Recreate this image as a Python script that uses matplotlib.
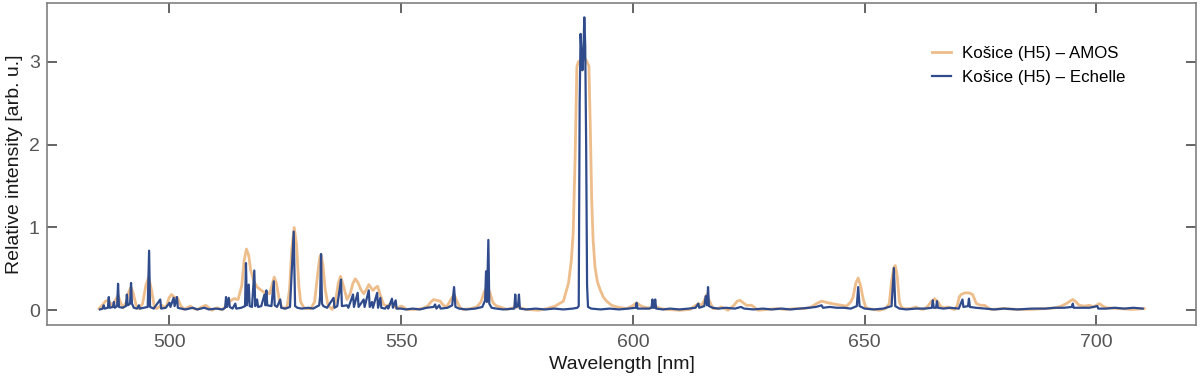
import matplotlib
matplotlib.use("Agg")
import matplotlib.pyplot as plt

plt.rcParams['font.family'] = ['Liberation Sans', 'DejaVu Sans']

# AMOS spectrum (smooth, low resolution)
amos_x = [484.8, 485.5, 486.2, 486.7, 487.2, 487.7, 488.3, 488.9, 489.4, 490.0,
          490.7, 491.2, 491.7, 492.2, 492.8, 493.4, 494.2, 494.9, 495.5, 496.1,
          496.7, 497.2, 497.8, 498.4, 498.9, 499.4, 499.9, 500.4, 501.0, 501.7,
          502.4, 503.1, 503.8, 504.5, 505.2, 506.0, 507.0, 507.8, 508.5, 509.2,
          509.8, 510.4, 511.0, 511.4, 512.2, 513.0, 513.9, 514.8, 515.6, 516.1,
          516.6, 517.1, 517.5, 518.2, 518.9, 519.6, 520.3, 521.1, 521.6, 522.1,
          522.6, 523.1, 523.7, 524.2, 524.8, 525.4, 525.9, 526.4, 526.9, 527.4,
          527.9, 528.3, 529.0, 529.8, 530.5, 531.3, 531.9, 532.4, 532.7, 533.1,
          533.6, 534.2, 535.1, 535.8, 536.4, 536.9, 537.5, 538.3, 539.0, 539.6,
          540.1, 540.7, 541.3, 541.9, 542.4, 543.0, 543.5, 543.9, 544.4, 544.9,
          545.4, 546.2, 546.9, 547.5, 548.0, 548.5, 549.1, 549.6, 550.1, 550.7,
          551.2, 553.0, 554.5, 555.7, 556.4, 557.0, 557.6, 558.4, 559.1, 559.8,
          560.6, 561.4, 562.1, 562.7, 563.4, 565.0, 566.3, 567.2, 567.9, 568.5,
          569.1, 569.8, 570.6, 571.3, 572.8, 574.2, 575.3, 576.2, 577.1, 579.6,
          581.4, 583.2, 585.0, 586.1, 586.7, 587.1, 587.5, 587.9, 588.2, 588.7,
          589.3, 589.9, 590.5, 590.8, 591.1, 591.4, 591.8, 592.3, 592.9, 593.6,
          594.3, 595.4, 596.5, 598.6, 599.8, 600.8, 601.8, 603.0, 604.0, 605.1,
          606.0, 607.3, 610.1, 612.3, 613.3, 614.1, 614.8, 615.4, 615.9, 616.6,
          617.3, 618.2, 619.1, 619.8, 620.5, 621.8, 622.5, 623.1, 623.8, 624.5,
          625.1, 625.6, 626.3, 627.0, 629.0, 631.0, 633.0, 635.0, 637.0, 638.5,
          639.6, 640.7, 641.4, 642.1, 643.0, 643.9, 645.0, 646.1, 647.0, 647.5,
          648.1, 648.6, 649.1, 649.7, 650.2, 650.7, 653.2, 654.5, 655.3, 655.8,
          656.3, 656.6, 657.0, 657.5, 658.0, 658.6, 659.9, 660.6, 661.1, 661.7,
          662.6, 663.5, 664.3, 665.1, 665.8, 666.5, 667.3, 668.0, 668.7, 669.4,
          670.0, 670.4, 670.8, 671.6, 672.5, 673.3, 673.8, 674.1, 675.0, 675.9,
          676.6, 677.3, 680.0, 683.0, 686.0, 689.0, 691.3, 692.4, 693.5, 694.3,
          694.9, 695.6, 696.3, 697.4, 698.5, 699.4, 700.6, 701.4, 702.1, 705.0,
          707.8, 710.3]
amos_y = [0.02, 0.06, 0.11, 0.12, 0.09, 0.05, 0.12, 0.18, 0.10, 0.03,
          0.10, 0.22, 0.28, 0.20, 0.06, 0.02, 0.08, 0.30, 0.40, 0.25,
          0.05, 0.02, 0.04, 0.06, 0.03, 0.06, 0.15, 0.19, 0.16, 0.15,
          0.06, 0.01, 0.03, 0.05, 0.02, 0.01, 0.04, 0.06, 0.03, 0.00,
          0.02, 0.03, 0.01, 0.01, 0.05, 0.11, 0.14, 0.13, 0.30, 0.60,
          0.74, 0.66, 0.49, 0.35, 0.28, 0.25, 0.22, 0.21, 0.20, 0.30,
          0.40, 0.32, 0.12, 0.04, 0.02, 0.05, 0.25, 0.75, 1.00, 0.80,
          0.30, 0.10, 0.03, 0.02, 0.02, 0.10, 0.40, 0.63, 0.67, 0.55,
          0.25, 0.06, 0.01, 0.10, 0.32, 0.41, 0.30, 0.13, 0.20, 0.33,
          0.38, 0.33, 0.25, 0.20, 0.24, 0.31, 0.27, 0.24, 0.27, 0.29,
          0.20, 0.07, 0.05, 0.07, 0.08, 0.05, 0.02, 0.04, 0.05, 0.03,
          0.01, 0.01, 0.02, 0.05, 0.10, 0.13, 0.12, 0.11, 0.06, 0.04,
          0.12, 0.19, 0.10, 0.03, 0.01, 0.02, 0.04, 0.10, 0.22, 0.28,
          0.22, 0.09, 0.05, 0.04, 0.01, 0.03, 0.04, 0.02, 0.01, 0.00,
          0.02, 0.05, 0.11, 0.33, 0.60, 0.93, 1.80, 2.94, 3.00, 3.02,
          3.07, 3.02, 2.95, 2.20, 1.33, 0.85, 0.53, 0.35, 0.25, 0.16,
          0.11, 0.06, 0.04, 0.02, 0.05, 0.09, 0.05, 0.03, 0.03, 0.04,
          0.02, 0.01, 0.00, 0.01, 0.05, 0.08, 0.06, 0.12, 0.19, 0.10,
          0.02, 0.02, 0.04, 0.02, 0.00, 0.06, 0.11, 0.12, 0.09, 0.06,
          0.06, 0.06, 0.03, 0.00, 0.01, 0.02, 0.01, 0.02, 0.02, 0.04,
          0.08, 0.11, 0.10, 0.09, 0.08, 0.07, 0.06, 0.05, 0.10, 0.16,
          0.33, 0.39, 0.30, 0.13, 0.04, 0.02, 0.00, 0.02, 0.08, 0.35,
          0.52, 0.54, 0.42, 0.10, 0.03, 0.02, 0.02, 0.03, 0.04, 0.02,
          0.01, 0.04, 0.10, 0.14, 0.10, 0.04, 0.03, 0.04, 0.02, 0.01,
          0.06, 0.16, 0.19, 0.21, 0.21, 0.19, 0.12, 0.08, 0.06, 0.06,
          0.03, 0.01, 0.02, 0.01, 0.01, 0.02, 0.03, 0.05, 0.08, 0.11,
          0.13, 0.10, 0.06, 0.05, 0.06, 0.04, 0.08, 0.05, 0.03, 0.02,
          0.01, 0.02]

# Echelle spectrum (high resolution, spiky)
ech_x = [485.0, 485.6, 485.8, 486.0, 486.7, 486.9, 487.1, 487.8, 488.0, 488.2,
         488.7, 488.9, 489.1, 489.8, 490.6, 490.8, 491.0, 491.5, 491.7, 491.9,
         492.3, 493.0, 493.4, 493.6, 495.3, 495.6, 495.8, 496.6, 498.0, 498.2,
         499.2, 500.0, 500.2, 500.9, 501.1, 501.6, 501.8, 502.5, 503.5, 505.0,
         506.0, 507.5, 508.5, 510.0, 511.5, 512.0, 512.2, 512.4, 512.8, 513.0,
         513.6, 514.2, 514.4, 515.5, 516.3, 516.5, 516.7, 517.1, 517.3, 517.8,
         518.3, 518.5, 518.9, 519.1, 519.8, 520.5, 520.7, 520.9, 521.1, 522.0,
         522.5, 522.7, 523.2, 523.9, 524.1, 525.0, 526.0, 526.8, 527.1, 527.6,
         528.5, 530.0, 531.0, 532.3, 532.5, 532.7, 532.9, 533.2, 534.0, 535.4,
         535.6, 536.2, 537.0, 537.2, 538.3, 538.6, 539.6, 539.8, 540.6, 540.8,
         541.9, 542.1, 543.0, 543.2, 543.7, 543.9, 544.8, 545.0, 545.5, 545.7,
         546.5, 547.0, 547.2, 548.0, 548.2, 548.8, 549.0, 550.0, 551.0, 552.5,
         554.0, 555.5, 557.0, 557.3, 557.6, 558.2, 558.5, 560.0, 561.0, 561.4,
         561.7, 562.5, 564.0, 566.0, 567.5, 568.1, 568.3, 568.5, 568.8, 569.0,
         569.5, 570.5, 572.0, 574.4, 574.6, 574.8, 575.2, 575.4, 575.6, 577.0,
         579.0, 581.0, 583.0, 585.0, 587.0, 588.0, 588.3, 588.5, 588.7, 588.9,
         589.1, 589.3, 589.5, 589.7, 589.9, 590.1, 590.3, 591.0, 593.0, 595.0,
         597.0, 599.0, 600.6, 600.8, 601.0, 602.0, 603.5, 604.0, 604.2, 604.4,
         604.6, 604.8, 605.0, 606.5, 608.0, 610.0, 612.0, 613.5, 614.1, 614.3,
         615.4, 615.7, 616.0, 616.2, 616.4, 617.2, 618.5, 620.0, 622.0, 623.3,
         624.0, 626.0, 628.0, 630.0, 632.0, 634.0, 636.0, 638.0, 639.5, 640.7,
         641.0, 642.5, 644.0, 645.5, 647.0, 648.3, 648.6, 648.9, 650.0, 652.0,
         654.0, 655.8, 656.3, 656.6, 657.5, 659.0, 661.0, 663.0, 664.5, 664.7,
         664.9, 665.4, 665.6, 665.8, 667.0, 668.5, 670.3, 671.1, 671.3, 672.3,
         672.5, 672.7, 674.0, 676.0, 678.0, 680.0, 683.0, 686.0, 689.0, 691.0,
         693.0, 694.7, 694.9, 695.1, 697.0, 698.5, 700.2, 700.4, 702.0, 704.0,
         706.0, 708.0, 710.0]
ech_y = [0.01, 0.02, 0.06, 0.02, 0.03, 0.16, 0.03, 0.04, 0.10, 0.03,
         0.05, 0.32, 0.04, 0.03, 0.05, 0.19, 0.06, 0.08, 0.33, 0.08,
         0.03, 0.02, 0.06, 0.02, 0.04, 0.72, 0.04, 0.02, 0.13, 0.02,
         0.03, 0.09, 0.04, 0.15, 0.05, 0.16, 0.03, 0.02, 0.01, 0.03,
         0.01, 0.03, 0.01, 0.02, 0.01, 0.03, 0.16, 0.04, 0.15, 0.04,
         0.02, 0.08, 0.02, 0.03, 0.05, 0.57, 0.06, 0.31, 0.05, 0.04,
         0.48, 0.05, 0.13, 0.04, 0.05, 0.19, 0.06, 0.24, 0.06, 0.05,
         0.35, 0.06, 0.04, 0.13, 0.03, 0.02, 0.04, 0.95, 0.05, 0.03,
         0.02, 0.03, 0.02, 0.06, 0.17, 0.68, 0.08, 0.05, 0.03, 0.15,
         0.03, 0.05, 0.37, 0.05, 0.06, 0.03, 0.19, 0.04, 0.21, 0.04,
         0.13, 0.04, 0.24, 0.04, 0.10, 0.03, 0.21, 0.03, 0.15, 0.03,
         0.02, 0.05, 0.02, 0.14, 0.03, 0.12, 0.02, 0.02, 0.01, 0.02,
         0.01, 0.03, 0.04, 0.07, 0.02, 0.06, 0.02, 0.03, 0.06, 0.28,
         0.04, 0.02, 0.01, 0.02, 0.04, 0.12, 0.47, 0.10, 0.85, 0.08,
         0.03, 0.02, 0.01, 0.02, 0.19, 0.04, 0.05, 0.19, 0.02, 0.01,
         0.02, 0.01, 0.02, 0.01, 0.02, 0.03, 0.05, 2.50, 3.34, 3.10,
         2.90, 3.10, 3.54, 3.20, 2.00, 0.30, 0.04, 0.02, 0.01, 0.02,
         0.01, 0.02, 0.03, 0.09, 0.02, 0.02, 0.02, 0.03, 0.13, 0.03,
         0.03, 0.13, 0.02, 0.01, 0.02, 0.01, 0.02, 0.03, 0.08, 0.03,
         0.05, 0.17, 0.06, 0.28, 0.05, 0.03, 0.02, 0.03, 0.02, 0.04,
         0.02, 0.01, 0.02, 0.01, 0.02, 0.01, 0.02, 0.03, 0.04, 0.06,
         0.03, 0.04, 0.03, 0.03, 0.02, 0.05, 0.28, 0.05, 0.02, 0.01,
         0.02, 0.05, 0.51, 0.05, 0.02, 0.01, 0.02, 0.02, 0.03, 0.12,
         0.03, 0.03, 0.11, 0.03, 0.02, 0.03, 0.02, 0.13, 0.04, 0.05,
         0.14, 0.04, 0.03, 0.02, 0.01, 0.02, 0.01, 0.02, 0.02, 0.03,
         0.03, 0.04, 0.08, 0.03, 0.03, 0.03, 0.05, 0.02, 0.02, 0.03,
         0.02, 0.03, 0.02]

fig = plt.figure(figsize=(12, 3.8), dpi=100)
ax = fig.add_axes([0.039, 0.145, 0.958, 0.848])

ax.plot(amos_x, amos_y, color='#EDBD8B', lw=2.0, label='Košice (H5) – AMOS')
ax.plot(ech_x, ech_y, color='#2F4B8C', lw=1.6, label='Košice (H5) – Echelle')

ax.margins(x=0.05, y=0.05)
ax.set_xticks([500, 550, 600, 650, 700])
ax.set_yticks([0, 1, 2, 3])
ax.tick_params(direction='in', length=7, width=1.1, color='#3a3a3a',
               labelcolor='#555555', labelsize=14, top=True, right=True)
ax.tick_params(axis='x', pad=6.5)
ax.tick_params(axis='y', pad=5)
for s in ax.spines.values():
    s.set_color('#808080')
    s.set_linewidth(1.2)

ax.set_xlabel('Wavelength [nm]', fontsize=14, color='#1a1a1a', labelpad=4)
ax.set_ylabel('Relative intensity [arb. u.]', fontsize=14, color='#1a1a1a', labelpad=4)

leg = ax.legend(loc='upper left', bbox_to_anchor=(0.764, 0.887), frameon=False,
                fontsize=12.2, handlelength=1.15, handletextpad=0.65,
                labelspacing=0.55, borderpad=0.4, borderaxespad=0)

fig.savefig('out.png', dpi=100)
